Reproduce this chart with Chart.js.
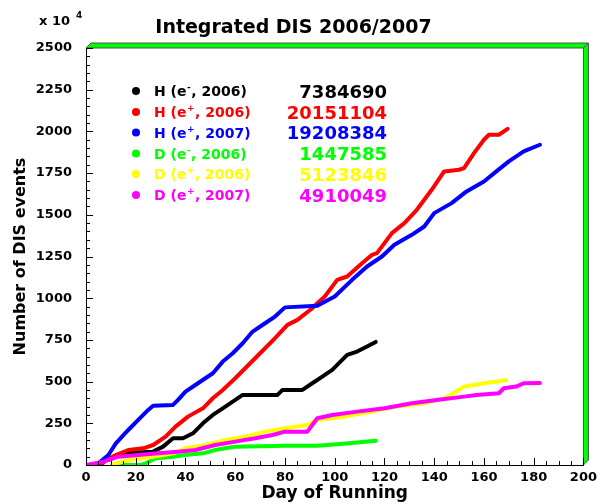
<!DOCTYPE html>
<html>
<head>
<meta charset="utf-8">
<title>Integrated DIS 2006/2007</title>
<script src="https://cdn.jsdelivr.net/npm/chart.js@4.4.1/dist/chart.umd.min.js"></script>
<style>
    html, body { margin: 0; padding: 0; background: #ffffff; }
    #wrap { width: 602px; height: 504px; }
</style>
</head>
<body>
<div id="wrap"><canvas id="disChart" width="602" height="504"></canvas></div>
<script>
// Datos (eventos en unidades de 10^4)
const seriesTarget = ['H', 'H', 'H', 'D', 'D', 'D'];
const seriesBeam = ['-', '+', '+', '-', '+', '+'];
const seriesYear = ['2006', '2006', '2007', '2006', '2006', '2007'];
const seriesTotals = ['7384690', '20151104', '19208384', '1447585', '5123846', '4910049'];
const seriesColors = ['#000000', '#ff0000', '#0000ff', '#00ff00', '#ffff00', '#ff00ff'];

const hElec2006Days = [9, 12, 16, 21, 27, 31, 35, 39, 43, 47, 51, 55, 59, 63, 77, 79, 87, 91, 95, 99, 103, 105, 109, 113, 116.5];
const hElec2006Vals = [30, 50, 70, 75, 80, 110, 160, 160, 190, 250, 300, 340, 380, 420, 420, 450, 450, 490, 530, 570, 630, 660, 680, 710, 738];

const hPos2006Days = [6, 8, 12, 17, 23, 27, 32, 36, 41, 47, 51, 55, 60, 64, 68, 72, 76, 81, 85, 91, 93, 96, 101, 105, 111, 115, 117, 123, 128, 133, 139, 144, 150, 152, 156, 160, 162, 166, 169.5];
const hPos2006Vals = [0, 30, 60, 90, 100, 120, 170, 230, 290, 340, 400, 450, 520, 580, 640, 700, 760, 840, 870, 940, 970, 1010, 1110, 1130, 1210, 1260, 1270, 1390, 1450, 1530, 1650, 1760, 1770, 1780, 1870, 1950, 1980, 1980, 2015];

const hPos2007Days = [2, 5, 9, 12, 17, 21, 25, 27, 35, 37, 40, 45, 51, 55, 59, 63, 67, 72, 76, 80, 93, 100, 107, 113, 119, 124, 131, 136, 140, 147, 153, 160, 165, 170, 176, 182.5];
const hPos2007Vals = [0, 10, 60, 130, 210, 270, 330, 355, 360, 390, 440, 490, 550, 620, 670, 730, 800, 850, 890, 945, 955, 1010, 1110, 1190, 1250, 1320, 1380, 1430, 1510, 1570, 1640, 1700, 1760, 1820, 1880, 1920];

const dElec2006Days = [12, 22, 24, 28, 35, 40, 47, 52, 56, 60, 80, 93, 101, 109, 116.5];
const dElec2006Vals = [0, 0, 10, 40, 50, 60, 70, 90, 100, 110, 115, 115, 125, 135, 145];

const dPos2006Days = [10, 17, 27, 35, 40, 48, 56, 64, 72, 80, 89, 93, 99, 104, 115, 125, 136, 144, 149, 152, 160, 169];
const dPos2006Vals = [0, 30, 50, 70, 100, 120, 150, 170, 200, 220, 240, 270, 280, 290, 320, 350, 370, 400, 440, 470, 490, 508];

const dPos2007Days = [0, 7, 13, 21, 29, 37, 44, 52, 60, 68, 75, 80, 89, 93, 99, 109, 120, 131, 141, 152, 157, 166, 168, 173, 176, 182.5];
const dPos2007Vals = [0, 20, 50, 60, 70, 80, 90, 120, 140, 160, 180, 200, 200, 280, 300, 320, 340, 370, 390, 410, 420, 430, 460, 470, 490, 491];

const xTicks = [0, 20, 40, 60, 80, 100, 120, 140, 160, 180, 200];
const yTicks = [0, 250, 500, 750, 1000, 1250, 1500, 1750, 2000, 2250, 2500];

const allDays = [hElec2006Days, hPos2006Days, hPos2007Days, dElec2006Days, dPos2006Days, dPos2007Days];
const allVals = [hElec2006Vals, hPos2006Vals, hPos2007Vals, dElec2006Vals, dPos2006Vals, dPos2007Vals];

const FONT = "'DejaVu Sans', Arial, sans-serif";

// Construir datasets
const datasets = allDays.map((days, i) => ({
    label: seriesTarget[i] + ' (e' + seriesBeam[i] + ', ' + seriesYear[i] + ')',
    data: days.map((d, k) => ({ x: d, y: allVals[i][k] })),
    borderColor: seriesColors[i],
    backgroundColor: seriesColors[i],
    borderWidth: 4,
    pointRadius: 0,
    tension: 0,
    borderCapStyle: 'round',
    borderJoinStyle: 'round',
    fill: false,
    order: 6 - i
}));

// Marco, marcas de eje, leyenda y factor de escala
const rootStyle = {
    id: 'rootStyle',
    afterDraw(chart) {
        const ctx = chart.ctx;
        const area = chart.chartArea;
        const xs = chart.scales.x;
        const ys = chart.scales.y;
        const bw = 5;

        ctx.save();

        // Borde verde (arriba y derecha)
        ctx.fillStyle = '#00ff00';
        ctx.strokeStyle = '#505050';
        ctx.lineWidth = 1;
        ctx.beginPath();
        ctx.moveTo(area.left, area.top);
        ctx.lineTo(area.left + bw, area.top - bw);
        ctx.lineTo(area.right + bw, area.top - bw);
        ctx.lineTo(area.right, area.top);
        ctx.closePath();
        ctx.fill();
        ctx.stroke();
        ctx.beginPath();
        ctx.moveTo(area.right, area.top);
        ctx.lineTo(area.right + bw, area.top - bw);
        ctx.lineTo(area.right + bw, area.bottom - bw);
        ctx.lineTo(area.right, area.bottom);
        ctx.closePath();
        ctx.fill();
        ctx.stroke();

        // Marcas hacia dentro
        ctx.strokeStyle = '#000000';
        ctx.lineWidth = 1;
        ctx.beginPath();
        for (let v = 0; v <= 2500; v += 50) {
            const py = Math.round(ys.getPixelForValue(v)) + 0.5;
            const len = v % 250 === 0 ? 7 : 4;
            ctx.moveTo(area.left, py);
            ctx.lineTo(area.left + len, py);
        }
        for (let d = 0; d <= 200; d += 5) {
            const px = Math.round(xs.getPixelForValue(d)) + 0.5;
            const len = d % 20 === 0 ? 7 : 4;
            ctx.moveTo(px, area.bottom);
            ctx.lineTo(px, area.bottom - len);
        }
        ctx.stroke();

        // Factor de escala
        ctx.fillStyle = '#000000';
        ctx.textAlign = 'left';
        ctx.textBaseline = 'alphabetic';
        ctx.font = 'bold 13px ' + FONT;
        ctx.fillText('x 10', 39, 25);
        ctx.font = 'bold 9px ' + FONT;
        ctx.fillText('4', 76, 18);

        // Leyenda
        const rowY = [91, 112, 132.5, 153.5, 174, 195];
        seriesTarget.forEach((t, i) => {
            const y = rowY[i];
            ctx.fillStyle = seriesColors[i];
            ctx.beginPath();
            ctx.arc(136, y, 4, 0, Math.PI * 2);
            ctx.fill();

            let x = 154;
            ctx.textAlign = 'left';
            ctx.font = 'bold 14px ' + FONT;
            const head = t + ' (e';
            ctx.fillText(head, x, y + 5);
            x += ctx.measureText(head).width;
            ctx.font = 'bold 9px ' + FONT;
            ctx.fillText(seriesBeam[i], x + 0.5, y - 1);
            x += ctx.measureText(seriesBeam[i]).width + 1;
            ctx.font = 'bold 14px ' + FONT;
            ctx.fillText(', ' + seriesYear[i] + ')', x, y + 5);

            ctx.textAlign = 'right';
            ctx.font = 'bold 18px ' + FONT;
            ctx.fillText(seriesTotals[i], 387, y + 6.5);
        });

        ctx.restore();
    }
};

const ctx = document.getElementById('disChart').getContext('2d');
window.disChart = new Chart(ctx, {
    type: 'line',
    data: { datasets: datasets },
    options: {
        responsive: false,
        animation: false,
        devicePixelRatio: 1,
        layout: { padding: { left: 0, right: 15, top: 0, bottom: 0 } },
        scales: {
            x: {
                type: 'linear',
                min: 0,
                max: 200,
                afterFit: (scale) => { scale.height = 39; },
                afterBuildTicks: (scale) => { scale.ticks = xTicks.map(v => ({ value: v })); },
                grid: { display: false, drawTicks: false },
                border: { display: true, color: '#000000', width: 1 },
                ticks: {
                    color: '#000000',
                    padding: 5,
                    maxRotation: 0,
                    autoSkip: false,
                    callback: (v) => String(v),
                    font: { family: FONT, size: 13, weight: 'bold' }
                },
                title: {
                    display: true,
                    text: 'Day of Running',
                    color: '#000000',
                    padding: { top: 0, bottom: 0 },
                    font: { family: FONT, size: 17, weight: 'bold' }
                }
            },
            y: {
                type: 'linear',
                min: 0,
                max: 2500,
                afterFit: (scale) => { scale.width = 86; },
                afterBuildTicks: (scale) => { scale.ticks = yTicks.map(v => ({ value: v })); },
                grid: { display: false, drawTicks: false },
                border: { display: true, color: '#000000', width: 1 },
                ticks: {
                    color: '#000000',
                    padding: 14,
                    autoSkip: false,
                    callback: (v) => String(v),
                    font: { family: FONT, size: 13, weight: 'bold' }
                },
                title: {
                    display: true,
                    text: 'Number of DIS events',
                    color: '#000000',
                    padding: { top: 11, bottom: 0 },
                    font: { family: FONT, size: 16, weight: 'bold' }
                }
            }
        },
        plugins: {
            legend: { display: false },
            tooltip: { enabled: false },
            title: {
                display: true,
                text: 'Integrated DIS 2006/2007',
                color: '#000000',
                padding: { top: 17, bottom: 8.2 },
                font: { family: FONT, size: 19, weight: 'bold' }
            }
        }
    },
    plugins: [rootStyle]
});
</script>
</body>
</html>
